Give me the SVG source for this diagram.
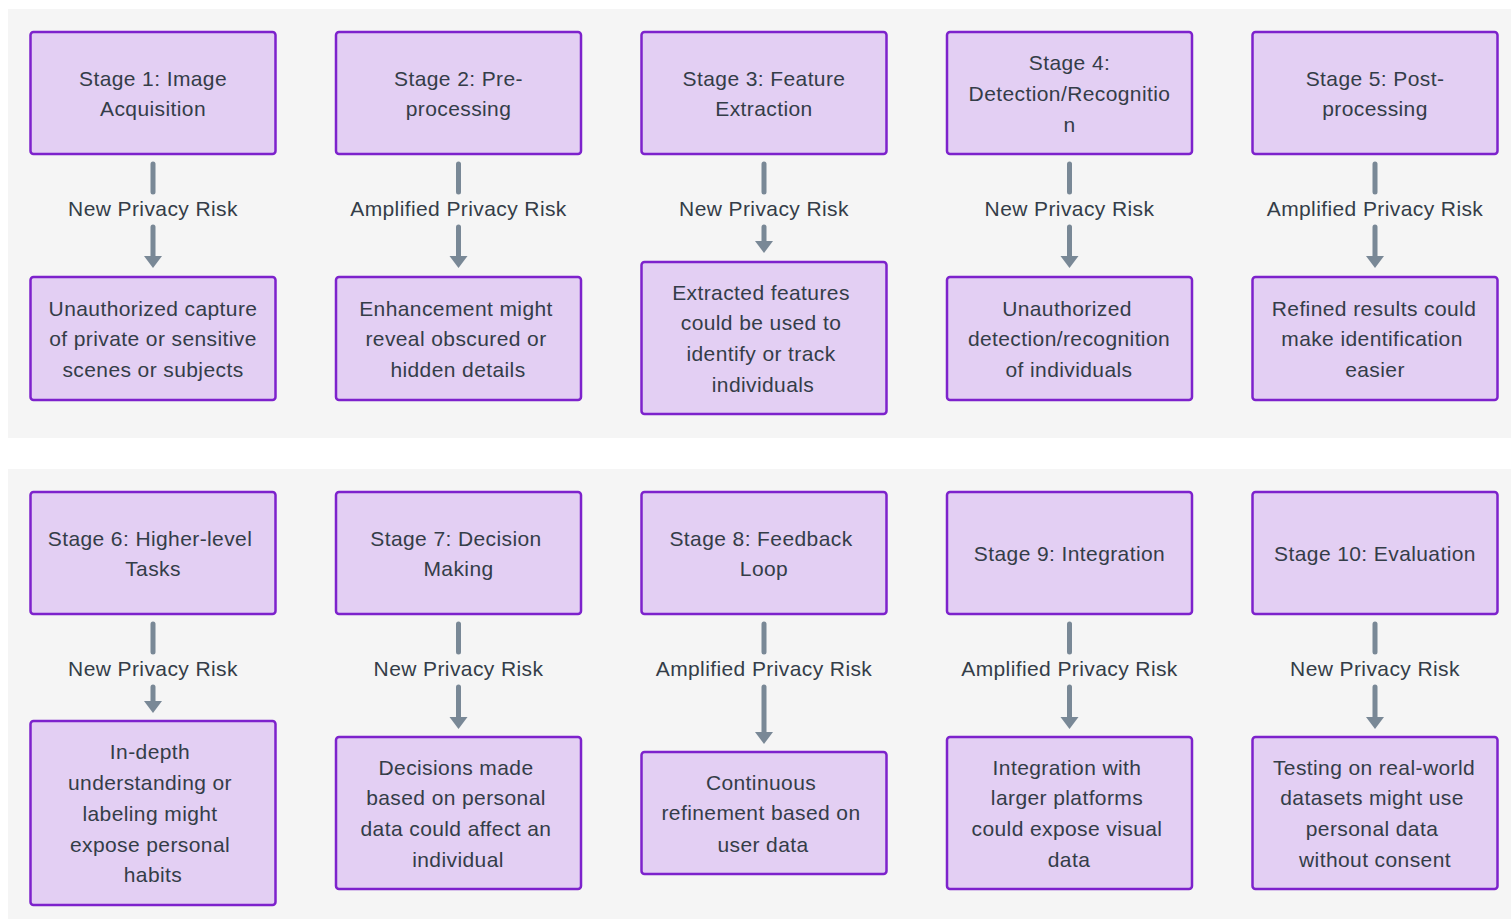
<svg xmlns="http://www.w3.org/2000/svg" width="1511" height="919" viewBox="0 0 1511 919">
<defs>
<style>
.panel{fill:#f5f5f5}
.box{fill:#e3cff3;stroke:#7d22cc;stroke-width:2.5}
.t{font-family:"Liberation Sans",Arial,sans-serif;font-size:21px;fill:#343d48;text-anchor:middle;dominant-baseline:central;letter-spacing:0.4px;transform:translateY(-1px)}
.ln{stroke:#798896;stroke-width:5;stroke-linecap:round;fill:none}
.ah{fill:#798896}
</style>
</defs>
<rect width="1511" height="919" fill="#ffffff"/>
<rect class="panel" x="8" y="9" width="1503" height="429"/>
<rect class="panel" x="8" y="469" width="1503" height="450"/>

<g id="connectors">
<line class="ln" x1="153" y1="164" x2="153" y2="192"/><text class="t" x="153" y="209">New Privacy Risk</text><line class="ln" x1="153" y1="227" x2="153" y2="258"/><path class="ah" d="M144,256 L162,256 L153,268 Z"/>
<line class="ln" x1="458.5" y1="164" x2="458.5" y2="192"/><text class="t" x="458.5" y="209">Amplified Privacy Risk</text><line class="ln" x1="458.5" y1="227" x2="458.5" y2="258"/><path class="ah" d="M449.5,256 L467.5,256 L458.5,268 Z"/>
<line class="ln" x1="764" y1="164" x2="764" y2="192"/><text class="t" x="764" y="209">New Privacy Risk</text><line class="ln" x1="764" y1="227" x2="764" y2="243"/><path class="ah" d="M755,241 L773,241 L764,253 Z"/>
<line class="ln" x1="1069.5" y1="164" x2="1069.5" y2="192"/><text class="t" x="1069.5" y="209">New Privacy Risk</text><line class="ln" x1="1069.5" y1="227" x2="1069.5" y2="258"/><path class="ah" d="M1060.5,256 L1078.5,256 L1069.5,268 Z"/>
<line class="ln" x1="1375" y1="164" x2="1375" y2="192"/><text class="t" x="1375" y="209">Amplified Privacy Risk</text><line class="ln" x1="1375" y1="227" x2="1375" y2="258"/><path class="ah" d="M1366,256 L1384,256 L1375,268 Z"/>
<line class="ln" x1="153" y1="624" x2="153" y2="652"/><text class="t" x="153" y="669">New Privacy Risk</text><line class="ln" x1="153" y1="687" x2="153" y2="703"/><path class="ah" d="M144,701 L162,701 L153,713 Z"/>
<line class="ln" x1="458.5" y1="624" x2="458.5" y2="652"/><text class="t" x="458.5" y="669">New Privacy Risk</text><line class="ln" x1="458.5" y1="687" x2="458.5" y2="719"/><path class="ah" d="M449.5,717 L467.5,717 L458.5,729 Z"/>
<line class="ln" x1="764" y1="624" x2="764" y2="652"/><text class="t" x="764" y="669">Amplified Privacy Risk</text><line class="ln" x1="764" y1="687" x2="764" y2="734"/><path class="ah" d="M755,732 L773,732 L764,744 Z"/>
<line class="ln" x1="1069.5" y1="624" x2="1069.5" y2="652"/><text class="t" x="1069.5" y="669">Amplified Privacy Risk</text><line class="ln" x1="1069.5" y1="687" x2="1069.5" y2="719"/><path class="ah" d="M1060.5,717 L1078.5,717 L1069.5,729 Z"/>
<line class="ln" x1="1375" y1="624" x2="1375" y2="652"/><text class="t" x="1375" y="669">New Privacy Risk</text><line class="ln" x1="1375" y1="687" x2="1375" y2="719"/><path class="ah" d="M1366,717 L1384,717 L1375,729 Z"/>
</g>

<g id="s1"><rect class="box" x="30.5" y="32" width="245" height="122" rx="3"/><text class="t" x="153" y="79">Stage 1: Image</text><text class="t" x="153" y="109">Acquisition</text></g>
<g id="s2"><rect class="box" x="336" y="32" width="245" height="122" rx="3"/><text class="t" x="458.5" y="79">Stage 2: Pre-</text><text class="t" x="458.5" y="109">processing</text></g>
<g id="s3"><rect class="box" x="641.5" y="32" width="245" height="122" rx="3"/><text class="t" x="764" y="79">Stage 3: Feature</text><text class="t" x="764" y="109">Extraction</text></g>
<g id="s4"><rect class="box" x="947" y="32" width="245" height="122" rx="3"/><text class="t" x="1069.5" y="63">Stage 4:</text><text class="t" x="1069.5" y="94">Detection/Recognitio</text><text class="t" x="1069.5" y="125">n</text></g>
<g id="s5"><rect class="box" x="1252.5" y="32" width="245" height="122" rx="3"/><text class="t" x="1375" y="79">Stage 5: Post-</text><text class="t" x="1375" y="109">processing</text></g>

<g id="r1"><rect class="box" x="30.5" y="277" width="245" height="123" rx="3"/><text class="t" x="153" y="309">Unauthorized capture</text><text class="t" x="153" y="339">of private or sensitive</text><text class="t" x="153" y="370">scenes or subjects</text></g>
<g id="r2"><rect class="box" x="336" y="277" width="245" height="123" rx="3"/><text class="t" x="456" y="309">Enhancement might</text><text class="t" x="456" y="339">reveal obscured or</text><text class="t" x="458" y="370">hidden details</text></g>
<g id="r3"><rect class="box" x="641.5" y="262" width="245" height="152" rx="3"/><text class="t" x="761" y="293">Extracted features</text><text class="t" x="761" y="323">could be used to</text><text class="t" x="761" y="354">identify or track</text><text class="t" x="763" y="385">individuals</text></g>
<g id="r4"><rect class="box" x="947" y="277" width="245" height="123" rx="3"/><text class="t" x="1067" y="309">Unauthorized</text><text class="t" x="1069" y="339">detection/recognition</text><text class="t" x="1069" y="370">of individuals</text></g>
<g id="r5"><rect class="box" x="1252.5" y="277" width="245" height="123" rx="3"/><text class="t" x="1374" y="309">Refined results could</text><text class="t" x="1372" y="339">make identification</text><text class="t" x="1375" y="370">easier</text></g>

<g id="s6"><rect class="box" x="30.5" y="492" width="245" height="122" rx="3"/><text class="t" x="150" y="539">Stage 6: Higher-level</text><text class="t" x="153" y="569">Tasks</text></g>
<g id="s7"><rect class="box" x="336" y="492" width="245" height="122" rx="3"/><text class="t" x="456" y="539">Stage 7: Decision</text><text class="t" x="458.5" y="569">Making</text></g>
<g id="s8"><rect class="box" x="641.5" y="492" width="245" height="122" rx="3"/><text class="t" x="761" y="539">Stage 8: Feedback</text><text class="t" x="764" y="569">Loop</text></g>
<g id="s9"><rect class="box" x="947" y="492" width="245" height="122" rx="3"/><text class="t" x="1069.5" y="554">Stage 9: Integration</text></g>
<g id="s10"><rect class="box" x="1252.5" y="492" width="245" height="122" rx="3"/><text class="t" x="1375" y="554">Stage 10: Evaluation</text></g>

<g id="r6"><rect class="box" x="30.5" y="721" width="245" height="184" rx="3"/><text class="t" x="150" y="752">In-depth</text><text class="t" x="150" y="783">understanding or</text><text class="t" x="150" y="814">labeling might</text><text class="t" x="150" y="845">expose personal</text><text class="t" x="153" y="875">habits</text></g>
<g id="r7"><rect class="box" x="336" y="737" width="245" height="152" rx="3"/><text class="t" x="456" y="768">Decisions made</text><text class="t" x="456" y="798">based on personal</text><text class="t" x="456" y="829">data could affect an</text><text class="t" x="458" y="860">individual</text></g>
<g id="r8"><rect class="box" x="641.5" y="752" width="245" height="122" rx="3"/><text class="t" x="761" y="783">Continuous</text><text class="t" x="761" y="813">refinement based on</text><text class="t" x="763" y="845">user data</text></g>
<g id="r9"><rect class="box" x="947" y="737" width="245" height="152" rx="3"/><text class="t" x="1067" y="768">Integration with</text><text class="t" x="1067" y="798">larger platforms</text><text class="t" x="1067" y="829">could expose visual</text><text class="t" x="1069" y="860">data</text></g>
<g id="r10"><rect class="box" x="1252.5" y="737" width="245" height="152" rx="3"/><text class="t" x="1374" y="768">Testing on real-world</text><text class="t" x="1372" y="798">datasets might use</text><text class="t" x="1372" y="829">personal data</text><text class="t" x="1375" y="860">without consent</text></g>
</svg>
